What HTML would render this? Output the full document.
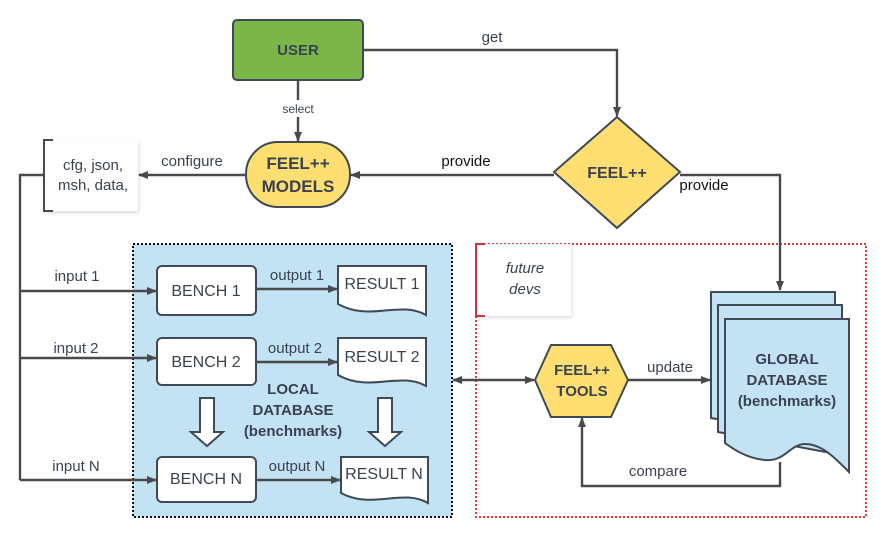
<!DOCTYPE html>
<html><head><meta charset="utf-8"><style>
html,body{margin:0;padding:0;background:#fff;}
svg{display:block;}
text{font-family:"Liberation Sans",Arial,sans-serif;fill:#3a4250;}
</style></head><body>
<svg width="886" height="542" viewBox="0 0 886 542" xmlns="http://www.w3.org/2000/svg">
<defs>
<marker id="a" markerWidth="10" markerHeight="10" refX="9" refY="5" orient="auto" markerUnits="userSpaceOnUse"><path d="M0,1 L10,5 L0,9 z" fill="#4a4a4a"/></marker>
<marker id="b" markerWidth="10" markerHeight="10" refX="1" refY="5" orient="auto" markerUnits="userSpaceOnUse"><path d="M10,1 L0,5 L10,9 z" fill="#4a4a4a"/></marker>
</defs>
<g stroke="#4a4a4a" stroke-width="2.4" fill="none">
<rect x="133" y="244" width="319" height="273" fill="#c3e3f5" stroke="#111" stroke-width="2" stroke-dasharray="2,2"/>
<rect x="476" y="244" width="390" height="273" fill="none" stroke="#e03a3a" stroke-width="2" stroke-dasharray="2,2"/>
<path d="M363,50 H617 V116" marker-end="url(#a)"/>
<path d="M298,80 V141" marker-end="url(#a)"/>
<path d="M554,175 H351" marker-end="url(#a)"/>
<path d="M246,175 H139" marker-end="url(#a)"/>
<path d="M680,175 H780 V290" marker-end="url(#a)"/>
<path d="M44,175 H20 V480"/>
<path d="M20,291 H156" marker-end="url(#a)"/>
<path d="M20,358 H156" marker-end="url(#a)"/>
<path d="M20,480 H156" marker-end="url(#a)"/>
<path d="M256,289 H337" marker-end="url(#a)"/>
<path d="M256,362 H337" marker-end="url(#a)"/>
<path d="M256,480 H340" marker-end="url(#a)"/>
<path d="M453,380 H534" marker-start="url(#b)" marker-end="url(#a)"/>
<path d="M628,380 H710" marker-end="url(#a)"/>
<path d="M780,462 V486 H582 V418" marker-end="url(#a)"/>
</g>
<rect x="233" y="20" width="130" height="60" rx="4" fill="#7ab648" stroke="#3f4a54" stroke-width="2"/>
<text x="298" y="55" text-anchor="middle" font-size="15" font-weight="bold">USER</text>
<rect x="282" y="100" width="32" height="17" fill="#fff"/>
<text x="298" y="113" text-anchor="middle" font-size="12">select</text>
<rect x="246" y="142" width="104" height="65" rx="32" fill="#ffdf71" stroke="#3f4a54" stroke-width="2"/>
<text x="298" y="169" text-anchor="middle" font-size="17" font-weight="bold">FEEL++</text>
<text x="298" y="192" text-anchor="middle" font-size="17" font-weight="bold">MODELS</text>
<rect x="44" y="140" width="94" height="71" fill="#fff" style="filter:drop-shadow(1px 2px 2px rgba(0,0,0,.15))"/>
<path d="M53,140 H44 V211 H53" fill="none" stroke="#4a4a4a" stroke-width="2"/>
<text x="93" y="170" text-anchor="middle" font-size="15">cfg, json,</text>
<text x="93" y="190" text-anchor="middle" font-size="15">msh, data,</text>
<text x="192" y="166" text-anchor="middle" font-size="15">configure</text>
<polygon points="617,117 680,172 617,228 554,172" fill="#ffdf71" stroke="#3f4a54" stroke-width="2"/>
<text x="617" y="178" text-anchor="middle" font-size="16" font-weight="bold">FEEL++</text>
<text x="492" y="42" text-anchor="middle" font-size="15">get</text>
<text x="466" y="166" text-anchor="middle" font-size="15" style="fill:#111">provide</text>
<text x="704" y="190" text-anchor="middle" font-size="15" style="fill:#111">provide</text>
<g fill="#fff" stroke="#3f4a54" stroke-width="2">
<rect x="157" y="266" width="99" height="49" rx="5"/>
<rect x="157" y="338" width="99" height="47" rx="5"/>
<rect x="157" y="457" width="99" height="45" rx="5"/>
<path d="M338,266 H426 V315 C400,300 370,322 338,304 Z"/>
<path d="M338,338 H426 V386 C400,371 370,393 338,375 Z"/>
<path d="M341,457 H428 V503 C402,488 372,510 341,493 Z"/>
<path d="M200,398 H214 V432 H223 L207,446 L191,432 H200 Z"/>
<path d="M378,398 H392 V432 H401 L385,446 L369,432 H378 Z"/>
</g>
<g font-size="16" text-anchor="middle">
<text x="206" y="296">BENCH 1</text>
<text x="206" y="367">BENCH 2</text>
<text x="206" y="484">BENCH N</text>
<text x="382" y="289">RESULT 1</text>
<text x="382" y="362">RESULT 2</text>
<text x="384" y="479">RESULT N</text>
</g>
<g font-size="15" text-anchor="middle">
<text x="77" y="281">input 1</text>
<text x="76" y="353">input 2</text>
<text x="76" y="471">input N</text>
<text x="297" y="280">output 1</text>
<text x="295" y="353">output 2</text>
<text x="297" y="471">output N</text>
<text x="670" y="372">update</text>
<text x="658" y="476">compare</text>
</g>
<g font-size="15" font-weight="bold" text-anchor="middle">
<text x="293" y="394">LOCAL</text>
<text x="293" y="415">DATABASE</text>
<text x="293" y="436">(benchmarks)</text>
</g>
<rect x="476" y="244" width="95" height="72" fill="#fff" style="filter:drop-shadow(1px 2px 2px rgba(0,0,0,.12))"/>
<path d="M485,244 H476 V316 H485" fill="none" stroke="#d0343a" stroke-width="2"/>
<text x="525" y="273" text-anchor="middle" font-size="15" font-style="italic">future</text>
<text x="525" y="294" text-anchor="middle" font-size="15" font-style="italic">devs</text>
<polygon points="535,380 551,345 611,345 628,380 611,417 551,417" fill="#ffdf71" stroke="#3f4a54" stroke-width="2"/>
<text x="582" y="375" text-anchor="middle" font-size="15" font-weight="bold">FEEL++</text>
<text x="582" y="396" text-anchor="middle" font-size="15" font-weight="bold">TOOLS</text>
<g fill="#c3e3f5" stroke="#3f4a54" stroke-width="2">
<path d="M711,292 H835 V440 L711,418 Z"/>
<path d="M718,305 H842 V455 L718,432 Z"/>
<path d="M725,319 H849 V472 C835,458 822,444 805,444 C790,444 785,462 765,460 C745,458 732,448 725,443 Z"/>
</g>
<g font-size="15" font-weight="bold" text-anchor="middle">
<text x="787" y="364">GLOBAL</text>
<text x="787" y="385">DATABASE</text>
<text x="787" y="406">(benchmarks)</text>
</g>
</svg>
</body></html>
